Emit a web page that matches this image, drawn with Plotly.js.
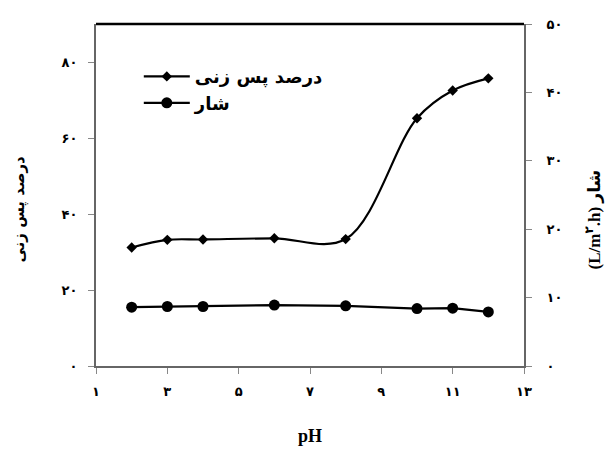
<!DOCTYPE html>
<html><head><meta charset="utf-8">
<script src="https://cdn.plot.ly/plotly-3.0.1.min.js"></script>
<style>html,body{margin:0;padding:0;background:#fff}</style>
</head><body><div id="chart" style="width:608px;height:450px"></div>
<script>
const pH = [2, 3, 4, 6, 8, 10, 11, 12];
const rejection = [31.2, 33.2, 33.3, 33.6, 33.4, 65.2, 72.5, 75.7];
const flux = [8.6, 8.7, 8.7, 8.9, 8.8, 8.4, 8.45, 7.9];
const rejectionName = 'درصد پس زنی';
const fluxName = 'شار';
const xTitle = 'pH';
const yTitle = 'درصد پس زنی';
const y2Title = '(L/m<sup>۲</sup>.h) شار';
const xTickVals = [1, 3, 5, 7, 9, 11, 13];
const xTickText = ['۱', '۳', '۵', '۷', '۹', '۱۱', '۱۳'];
const yTickVals = [0, 20, 40, 60, 80];
const yTickText = ['۰', '۲۰', '۴۰', '۶۰', '۸۰'];
const y2TickVals = [0, 10, 20, 30, 40, 50];
const y2TickText = ['۰', '۱۰', '۲۰', '۳۰', '۴۰', '۵۰'];

const fontFam = '"Liberation Serif", "DejaVu Sans", serif';
const faFam = '"DejaVu Sans", "Liberation Serif", sans-serif';
const LRM = '\u200E';

const traces = [
  {x: pH, y: rejection, name: LRM + rejectionName, type: 'scatter', mode: 'lines+markers',
   line: {color: '#000', width: 2.2, shape: 'spline', smoothing: 1},
   marker: {symbol: 'diamond', size: 8, color: '#000'}},
  {x: pH, y: flux, name: LRM + fluxName, type: 'scatter', mode: 'lines+markers', yaxis: 'y2',
   line: {color: '#000', width: 2.2},
   marker: {symbol: 'circle', size: 11, color: '#000'}}
];

const axisCommon = {showgrid: false, zeroline: false, showline: true, linecolor: '#666', linewidth: 2,
  ticks: 'outside', ticklen: 6, tickcolor: '#888', tickfont: {size: 13, weight: 'bold', family: faFam}};

const layout = {
  width: 608, height: 450,
  margin: {l: 96, r: 84, t: 24, b: 84},
  paper_bgcolor: '#fff', plot_bgcolor: '#fff',
  font: {family: fontFam, color: '#000', size: 13},
  showlegend: true,
  legend: {x: 0.1, y: 0.9, xanchor: 'left', yanchor: 'top', bgcolor: 'rgba(0,0,0,0)',
           font: {size: 18, weight: 'bold', family: faFam}, itemwidth: 46, tracegroupgap: 0},
  xaxis: Object.assign({}, axisCommon, {range: [1, 13], tickvals: xTickVals, ticktext: xTickText,
          ticklabelstandoff: 6,
          title: {text: xTitle, font: {size: 18, weight: 'bold'}, standoff: 32}}),
  yaxis: Object.assign({}, axisCommon, {range: [0, 90], tickvals: yTickVals, ticktext: yTickText,
          ticklabelstandoff: 8}),
  yaxis2: Object.assign({}, axisCommon, {range: [0, 50], overlaying: 'y', side: 'right',
           tickvals: y2TickVals, ticktext: y2TickText, ticklabelstandoff: 12}),
  annotations: [
    {text: yTitle, xref: 'paper', yref: 'paper', x: -0.178, y: 0.46, xanchor: 'center', yanchor: 'middle',
     textangle: -90, showarrow: false, font: {size: 15, weight: 'bold', family: faFam}},
    {text: y2Title, xref: 'paper', yref: 'paper', x: 1.16, y: 0.43, xanchor: 'center', yanchor: 'middle',
     textangle: -90, showarrow: false, font: {size: 17, weight: 'bold', family: fontFam}}
  ],
  shapes: [{type: 'line', xref: 'paper', yref: 'paper', x0: 0, x1: 1, y0: 1, y1: 1,
            line: {color: '#000', width: 2.5}}]
};

Plotly.newPlot('chart', traces, layout, {displayModeBar: false, staticPlot: true});
</script></body></html>
